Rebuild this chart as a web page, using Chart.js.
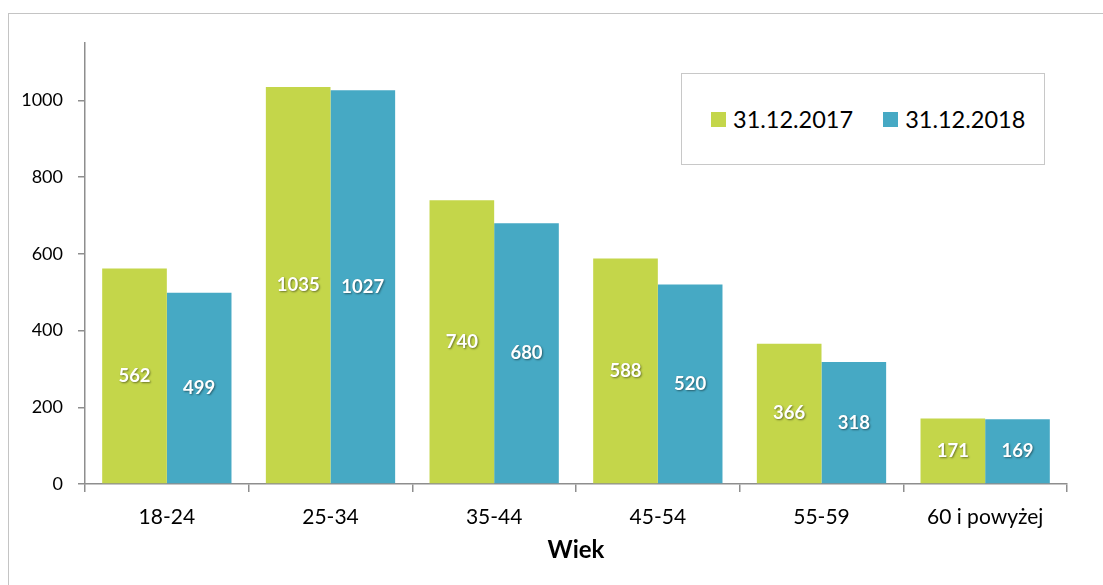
<!DOCTYPE html>
<html lang="pl">
<head>
    <meta charset="UTF-8">
    <title>Wiek</title>
    <script src="https://cdn.jsdelivr.net/npm/chart.js"></script>
    <style>
        body { margin: 0; background: #fff; font-family: Lato, "Open Sans", sans-serif; }
        .wrap { position: relative; width: 1103px; height: 585px; overflow: hidden; }
        .frame {
            position: absolute; left: 8px; top: 13px; width: 1200px; height: 700px;
            border: 1px solid #c4c4c4; box-sizing: border-box;
        }
        #legendBox {
            position: absolute; left: 681px; top: 73px; width: 364px; height: 92px;
            border: 1.5px solid #c8c8c8; box-sizing: border-box; background: #fff;
            display: flex; align-items: center; padding-left: 29px; gap: 30px;
        }
        .item { display: flex; align-items: center; font-size: 23.5px; color: #000; }
        .sw { width: 15px; height: 15px; margin-right: 7px; }
        canvas { position: absolute; left: 0; top: 0; }
    </style>
</head>
<body>
<div class="wrap">
    <div class="frame"></div>
    <canvas id="wiekChart" width="1103" height="585"></canvas>
    <div id="legendBox"></div>
</div>
<script>
    const categories = ['18-24', '25-34', '35-44', '45-54', '55-59', '60 i powyżej'];
    const seriesNames = ['31.12.2017', '31.12.2018'];
    const values2017 = [562, 1035, 740, 588, 366, 171];
    const values2018 = [499, 1027, 680, 520, 318, 169];
    const colors = ['#c4d64a', '#46a9c4'];

    const axisColor = '#8e8e8e';
    const font = 'Lato, "Open Sans", sans-serif';

    // white value labels in the middle of each bar
    const barLabels = {
        id: 'barLabels',
        afterDatasetsDraw(chart) {
            const ctx = chart.ctx;
            ctx.save();
            ctx.font = 'bold 18.5px ' + font;
            ctx.fillStyle = '#fff';
            ctx.textAlign = 'center';
            ctx.textBaseline = 'middle';
            ctx.shadowColor = 'rgba(0,0,0,0.45)';
            ctx.shadowOffsetX = 1;
            ctx.shadowOffsetY = 1;
            ctx.shadowBlur = 2;
            chart.data.datasets.forEach((ds, i) => {
                chart.getDatasetMeta(i).data.forEach((bar, j) => {
                    ctx.fillText(ds.data[j], bar.x, (bar.y + bar.base) / 2);
                });
            });
            ctx.restore();
        }
    };

    const ctx = document.getElementById('wiekChart').getContext('2d');
    const chart = new Chart(ctx, {
        type: 'bar',
        data: {
            labels: categories,
            datasets: [
                { label: seriesNames[0], data: values2017, backgroundColor: colors[0] },
                { label: seriesNames[1], data: values2018, backgroundColor: colors[1] }
            ]
        },
        options: {
            responsive: false,
            animation: false,
            layout: { padding: { left: 0, right: 36, top: 43, bottom: 0 } },
            datasets: { bar: { categoryPercentage: 0.79, barPercentage: 1 } },
            plugins: { legend: { display: false }, tooltip: { enabled: false } },
            scales: {
                x: {
                    grid: { drawOnChartArea: false, tickLength: 8, color: axisColor, lineWidth: 1.5, offset: true },
                    border: { color: axisColor, width: 1.5 },
                    ticks: { color: '#000', font: { family: font, size: 21 }, padding: 13 },
                    title: { display: true, text: 'Wiek', color: '#000', font: { family: font, size: 24, weight: 'bold' }, padding: { top: 0, bottom: 20 } },
                    afterFit(scale) { scale.height = 101; }
                },
                y: {
                    min: 0,
                    max: 1150,
                    grid: { drawOnChartArea: false, tickLength: 7, color: axisColor, lineWidth: 1.5 },
                    border: { color: axisColor, width: 1.5 },
                    ticks: { stepSize: 200, color: '#000', font: { family: font, size: 18 }, padding: 15, callback: v => String(v) },
                    afterBuildTicks(scale) { scale.ticks = scale.ticks.filter(t => t.value % 200 === 0); },
                    afterFit(scale) { scale.width = 85; }
                }
            }
        },
        plugins: [barLabels]
    });

    const legendBox = document.getElementById('legendBox');
    chart.data.datasets.forEach(ds => {
        const item = document.createElement('div');
        item.className = 'item';
        item.innerHTML = '<span class="sw" style="background:' + ds.backgroundColor + '"></span>' + ds.label;
        legendBox.appendChild(item);
    });
</script>
</body>
</html>
